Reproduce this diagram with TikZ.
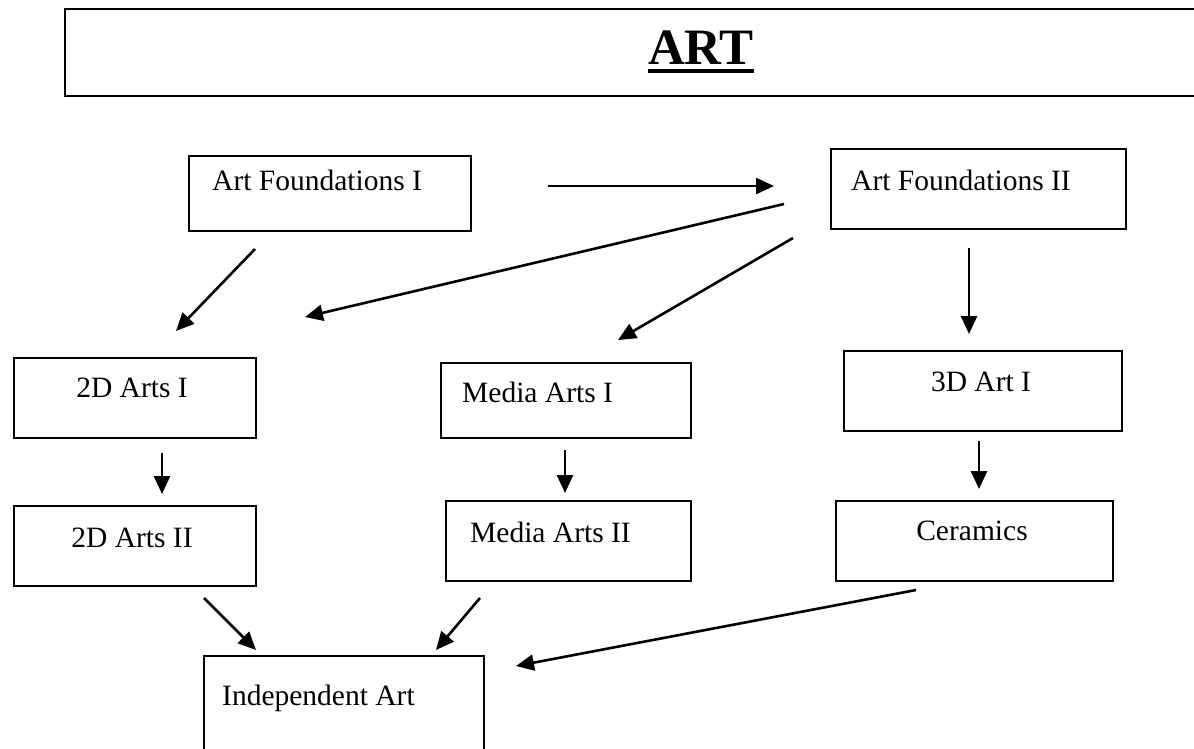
\documentclass[tikz,border=0pt]{standalone}
\usepackage{fontspec}
\setmainfont{Liberation Serif}
\usetikzlibrary{arrows.meta}
\begin{document}
\begin{tikzpicture}[x=1pt,y=-1pt,
  box/.style={draw, line width=1.8pt, anchor=north west, inner sep=0pt},
  lbl/.style={anchor=base west, inner sep=0pt, font=\fontsize{29.5}{30}\selectfont},
  arr/.style={line width=2.6pt, -{Triangle[length=18pt,width=16pt]}}]
\useasboundingbox (0,0) rectangle (1194,748);
\begin{scope}
\clip (0,0) rectangle (1194,748);
% title frame
\coordinate (tr) at (1200,9);
\coordinate (tl) at (65,9);
\coordinate (bl) at (65,96);
\coordinate (br) at (1200,96);
\draw[line width=2.6pt] (tr) -- (tl) -- (bl) -- (br);
\node[anchor=base, inner sep=0pt, font=\fontsize{51}{51}\selectfont\bfseries] (title) at (701,64) {ART};
\draw[line width=4.5pt] ([yshift=-7pt]title.base west) -- ([yshift=-7pt]title.base east);

% boxes
\node[box, minimum width=282pt, minimum height=75pt] (af1) at (188,155) {};
\node[lbl] (af1t) at (212,190) {Art Foundations I};
\node[box, minimum width=295pt, minimum height=80pt] (af2) at (830,148) {};
\node[lbl] (af2t) at (851,190) {Art Foundations II};
\node[box, minimum width=242pt, minimum height=80pt] (d1) at (13,357) {};
\node[lbl, anchor=base] (d1t) at (132,397) {2D Arts I};
\node[box, minimum width=250pt, minimum height=75pt] (m1) at (440,362) {};
\node[lbl] (m1t) at (462,402) {Media Arts I};
\node[box, minimum width=278pt, minimum height=80pt] (t1) at (843,350) {};
\node[lbl, anchor=base] (t1t) at (981,391) {3D Art I};
\node[box, minimum width=242pt, minimum height=80pt] (d2) at (13,505) {};
\node[lbl, anchor=base] (d2t) at (132,547) {2D Arts II};
\node[box, minimum width=245pt, minimum height=80pt] (m2) at (445,500) {};
\node[lbl] (m2t) at (470,542) {Media Arts II};
\node[box, minimum width=277pt, minimum height=80pt] (cer) at (835,500) {};
\node[lbl, anchor=base] (cert) at (972,540) {Ceramics};
\node[box, minimum width=280pt, minimum height=110pt] (ind) at (203,655) {};
\node[lbl] (indt) at (222,705) {Independent Art};
\end{scope}

% arrow end points
\coordinate (a1s) at (548,186); \coordinate (a1e) at (774,186);
\coordinate (a2s) at (784,204); \coordinate (a2e) at (305,317);
\coordinate (a3s) at (793,238); \coordinate (a3e) at (618,340);
\coordinate (a4s) at (969,248); \coordinate (a4e) at (969,334);
\coordinate (a5s) at (255,249); \coordinate (a5e) at (176,331);
\coordinate (a6s) at (162,453); \coordinate (a6e) at (162,494);
\coordinate (a7s) at (565,450); \coordinate (a7e) at (565,493);
\coordinate (a8s) at (979,441); \coordinate (a8e) at (979,489);
\coordinate (a9s) at (204,598); \coordinate (a9e) at (256,650);
\coordinate (a10s) at (480,598); \coordinate (a10e) at (436,650);
\coordinate (a11s) at (916,590); \coordinate (a11e) at (516,666);

\draw[arr] (a1s) -- (a1e);
\draw[arr] (a2s) -- (a2e);
\draw[arr] (a3s) -- (a3e);
\draw[arr] (a4s) -- (a4e);
\draw[arr] (a5s) -- (a5e);
\draw[arr] (a6s) -- (a6e);
\draw[arr] (a7s) -- (a7e);
\draw[arr] (a8s) -- (a8e);
\draw[arr] (a9s) -- (a9e);
\draw[arr] (a10s) -- (a10e);
\draw[arr] (a11s) -- (a11e);
\end{tikzpicture}
\end{document}
